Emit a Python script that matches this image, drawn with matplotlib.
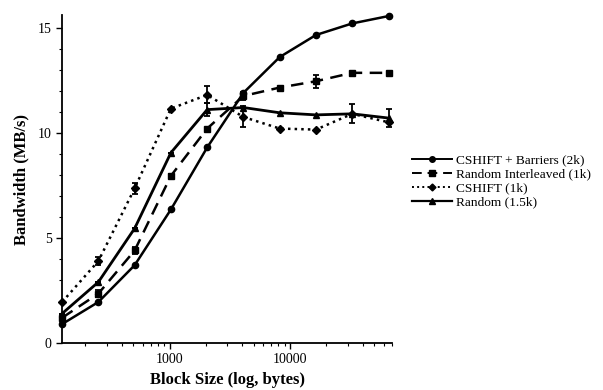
# Bandwidth vs. block size for the four communication patterns
import matplotlib
matplotlib.use("Agg")
import matplotlib.pyplot as plt
from matplotlib.lines import Line2D
from matplotlib.ticker import FixedLocator, MultipleLocator, NullFormatter

plt.rcParams["font.family"] = ["Liberation Serif", "DejaVu Serif"]

block_sizes = [128, 256, 512, 1024, 2048, 4096, 8192, 16384, 32768, 65536]

barriers_2k = [0.9, 1.95, 3.7, 6.35, 9.3, 11.9, 13.6, 14.65, 15.2, 15.55]

interleaved_1k = [1.2, 2.35, 4.4, 7.95, 10.2, 11.75, 12.15, 12.45, 12.85, 12.85]
interleaved_err = [0, 0.15, 0.15, 0.1, 0, 0.2, 0, 0.3, 0, 0]

cshift_1k = [1.95, 3.9, 7.35, 11.15, 11.8, 10.75, 10.2, 10.15, 10.9, 10.5]
cshift_err = [0, 0.2, 0.25, 0, 0.4, 0.5, 0, 0, 0, 0]

random_15k = [1.4, 2.9, 5.45, 9.05, 11.1, 11.2, 10.95, 10.85, 10.9, 10.7]
random_err = [0, 0, 0, 0, 0.3, 0, 0, 0, 0.45, 0.45]

labels = ["CSHIFT + Barriers (2k)", "Random Interleaved (1k)",
          "CSHIFT (1k)", "Random (1.5k)"]

# line style, marker, marker size, line width for each series
styles = [
    dict(ls="-", marker="o", ms=4.5, lw=1.8),
    dict(ls=(0, (5, 3)), marker="s", ms=5, lw=1.8),
    dict(ls=":", marker="D", ms=4, lw=1.8),
    dict(ls="-", marker="^", ms=5, lw=2.0),
]
series = [(barriers_2k, None), (interleaved_1k, interleaved_err),
          (cshift_1k, cshift_err), (random_15k, random_err)]

fig = plt.figure(figsize=(6.03, 3.9), dpi=100)
ax = fig.add_axes([0.103, 0.1205, 0.547, 0.841])

for (vals, err), st in zip(series, styles):
    ax.errorbar(block_sizes, vals, yerr=err, color="black", linestyle=st["ls"],
                marker=st["marker"], ms=st["ms"], lw=st["lw"], capsize=2.5,
                elinewidth=1.3, capthick=1.3, clip_on=False)

ax.set_xscale("log")
ax.set_xlim(128, 70000)
ax.set_ylim(0, 15.6)
ax.xaxis.set_major_locator(FixedLocator([1000, 10000]))
ax.set_xticklabels(["1000", "10000"])
ax.xaxis.set_minor_formatter(NullFormatter())
ax.yaxis.set_major_locator(MultipleLocator(5))
ax.yaxis.set_minor_locator(MultipleLocator(1))

for side in ("top", "right"):
    ax.spines[side].set_visible(False)
for side in ("left", "bottom"):
    ax.spines[side].set_linewidth(1.3)
ax.tick_params(axis="both", which="major", length=4, width=1, labelsize=10)
ax.tick_params(axis="both", which="minor", length=2, width=0.8)

ax.set_xlabel("Block Size (log, bytes)", fontsize=12, fontweight="bold", labelpad=4)
ax.set_ylabel("Bandwidth (MB/s)", fontsize=12, fontweight="bold", labelpad=6)

handles = [Line2D([], [], color="black", linestyle=st["ls"], marker=st["marker"],
                  ms=st["ms"] - 0.5, lw=st["lw"] - 0.4) for st in styles]
fig.legend(handles, labels, loc="upper left", bbox_to_anchor=(0.674, 0.618),
           frameon=False, fontsize=9.6, handlelength=3.0, handletextpad=0.3,
           labelspacing=0.12, borderaxespad=0)

fig.savefig("out.png", dpi=100)
